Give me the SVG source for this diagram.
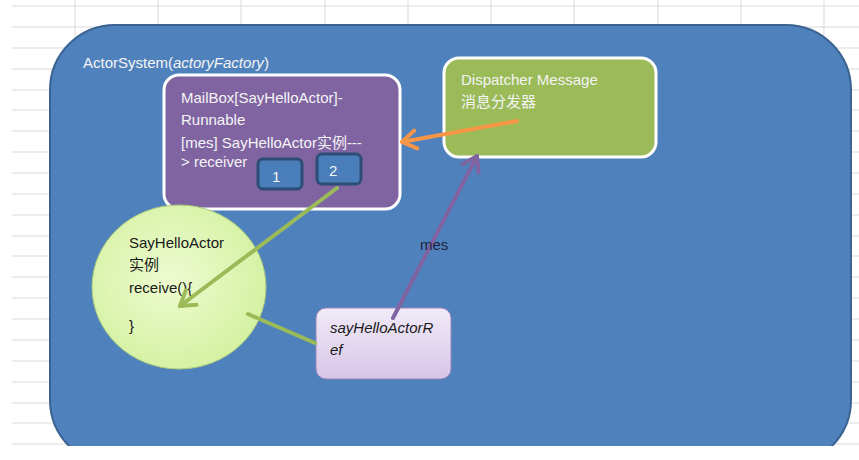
<svg xmlns="http://www.w3.org/2000/svg" width="859" height="460" viewBox="0 0 859 460">
<style>
.grid{stroke:#d9d9d9;stroke-width:1}
.t{font-family:"Liberation Sans","Noto Sans CJK SC",sans-serif;font-size:15px}
.w{fill:#f4f4f4}
.k{fill:#1a1a1a}
.conn{fill:none;stroke-width:4;stroke-linecap:round;stroke-linejoin:round}
</style>
<defs>
<radialGradient id="gCircle" cx="0.45" cy="0.45" r="0.6">
<stop offset="0" stop-color="#eefbd0"/>
<stop offset="1" stop-color="#d3f1a0"/>
</radialGradient>
<linearGradient id="gRef" x1="0" y1="0" x2="0" y2="1">
<stop offset="0" stop-color="#f1ebf8"/>
<stop offset="1" stop-color="#d6c5e8"/>
</linearGradient>
<marker id="aOr" markerUnits="userSpaceOnUse" markerWidth="34" markerHeight="34" refX="17" refY="17" orient="auto" viewBox="0 0 34 34">
<path d="M3,8 L17,17 L3,26" fill="none" stroke="#f79646" stroke-width="4" stroke-linecap="round" stroke-linejoin="round"/>
</marker>
<marker id="aGr" markerUnits="userSpaceOnUse" markerWidth="34" markerHeight="34" refX="17" refY="17" orient="auto" viewBox="0 0 34 34">
<path d="M3,8 L17,17 L3,26" fill="none" stroke="#9bbb59" stroke-width="4" stroke-linecap="round" stroke-linejoin="round"/>
</marker>
<marker id="aPu" markerUnits="userSpaceOnUse" markerWidth="34" markerHeight="34" refX="17" refY="17" orient="auto" viewBox="0 0 34 34">
<path d="M3,8 L17,17 L3,26" fill="none" stroke="#8064a2" stroke-width="4" stroke-linecap="round" stroke-linejoin="round"/>
</marker>
</defs>
<rect width="859" height="460" fill="#ffffff"/>
<g id="grid">
<path class="grid" d="M12,6H859M12,27H859M12,48H859M12,69H859M12,90H859M12,110H859M12,131H859M12,152H859M12,173H859M12,194H859M12,215H859M12,236H859M12,256H859M12,277H859M12,298H859M12,319H859M12,340H859M12,361H859M12,382H859M12,403H859M12,423H859M12,444H859"/>
<path class="grid" d="M75,0V446M158,0V446M241,0V446M325,0V446M408,0V446M491,0V446M574,0V446M658,0V446M741,0V446M824,0V446"/>
</g>
<g id="actorSystem">
<rect x="50" y="25" width="801" height="440" rx="65" fill="#4f81bd" stroke="#3a6391" stroke-width="2"/>
<text class="t w" x="83" y="68" font-size="15.5">ActorSystem(<tspan font-style="italic">actoryFactory</tspan>)</text>
</g>
<rect x="0" y="446" width="859" height="14" fill="#ffffff"/>
<g id="mailbox">
<rect x="164" y="75" width="236" height="134" rx="15" fill="#8064a2" stroke="#ffffff" stroke-width="3"/>
<text class="t w" x="181" y="103">MailBox[SayHelloActor]-</text>
<text class="t w" x="181" y="125">Runnable</text>
<text class="t w" x="181" y="148">[mes] SayHelloActor实例---</text>
<text class="t w" x="181" y="167">&gt; receiver</text>
</g>
<g id="box1">
<rect x="258" y="159" width="44" height="30" rx="5" fill="#4a7ebb" stroke="#2c4d75" stroke-width="3"/>
<text class="t w" x="272" y="182" font-size="14">1</text>
</g>
<g id="box2">
<rect x="317" y="154" width="44" height="30" rx="5" fill="#4a7ebb" stroke="#2c4d75" stroke-width="3"/>
<text class="t w" x="329" y="176" font-size="14">2</text>
</g>
<g id="dispatcher">
<rect x="444" y="58" width="212" height="99" rx="15" fill="#9bbb59" stroke="#ffffff" stroke-width="3"/>
<text class="t w" x="461" y="85">Dispatcher Message</text>
<text class="t w" x="461" y="107">消息分发器</text>
</g>
<g id="actorInstance">
<ellipse cx="179" cy="287" rx="87" ry="82" fill="url(#gCircle)" stroke="#a9c97a" stroke-width="1"/>
<text class="t k" x="129" y="248">SayHelloActor</text>
<text class="t k" x="129" y="270">实例</text>
<text class="t k" x="129" y="293">receive(){</text>
<text class="t k" x="129" y="331">}</text>
</g>
<g id="actorRef">
<rect x="316" y="308" width="135" height="71" rx="10" fill="url(#gRef)" stroke="#9a84b8" stroke-width="1"/>
<text class="t k" x="330" y="333" font-style="italic">sayHelloActorR</text>
<text class="t k" x="330" y="355" font-style="italic">ef</text>
</g>
<g id="connectors">
<path class="conn" d="M517,121 L402,142" stroke="#f79646" marker-end="url(#aOr)"/>
<path class="conn" d="M337,188 L180,306" stroke="#9bbb59" marker-end="url(#aGr)"/>
<path class="conn" d="M248,314 L315,343" stroke="#9bbb59"/>
<path class="conn" d="M393,318 L477,156" stroke="#8064a2" marker-end="url(#aPu)"/>
<text class="t" x="420" y="250" fill="#1f2440">mes</text>
</g>
</svg>
